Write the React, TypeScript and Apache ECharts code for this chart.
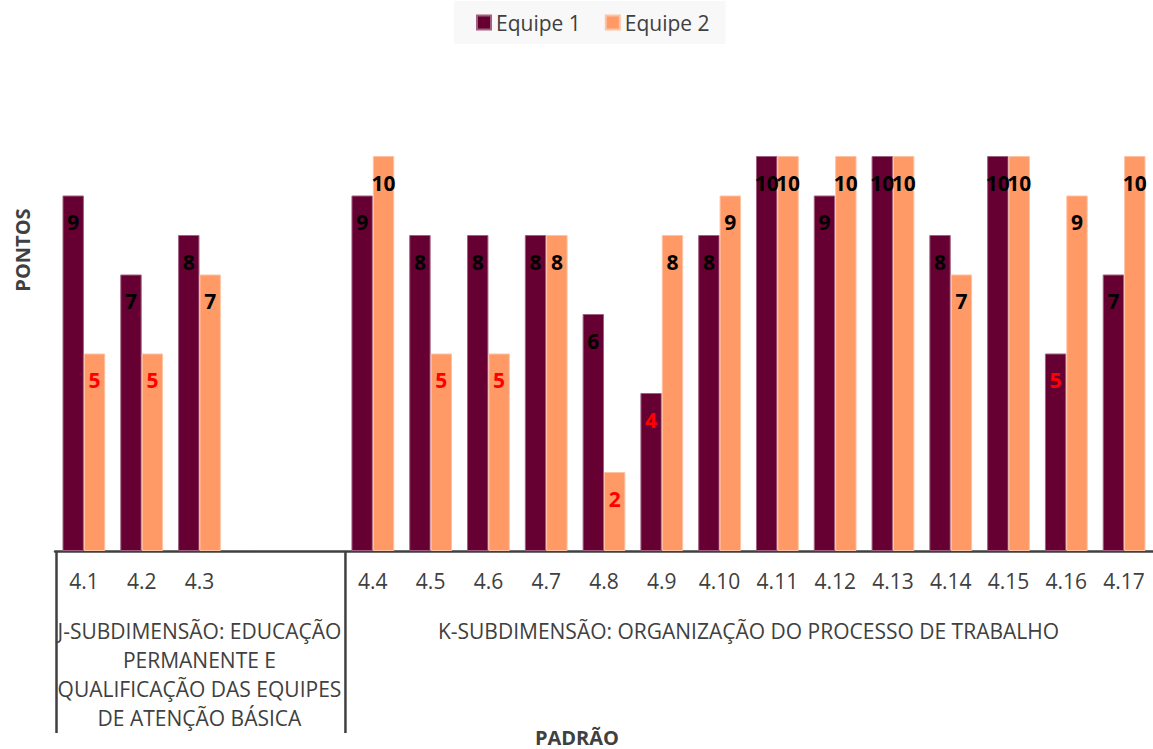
import React, { useEffect, useRef } from "react";
import * as echarts from "echarts";

// Standards on the x axis (two empty slots keep the groups apart)
const categories = [
  "4.1", "4.2", "4.3", "", "",
  "4.4", "4.5", "4.6", "4.7", "4.8", "4.9", "4.10", "4.11",
  "4.12", "4.13", "4.14", "4.15", "4.16", "4.17",
];

const equipe1 = [9, 7, 8, null, null, 9, 8, 8, 8, 6, 4, 8, 10, 9, 10, 8, 10, 5, 7];
const equipe2 = [5, 5, 7, null, null, 10, 5, 5, 8, 2, 8, 9, 10, 10, 10, 7, 10, 9, 10];

// Sub-dimension groups: label and first/last category index
const groupNames = [
  "J-SUBDIMENSÃO: EDUCAÇÃO\nPERMANENTE E\nQUALIFICAÇÃO DAS EQUIPES\nDE ATENÇÃO BÁSICA",
  "K-SUBDIMENSÃO: ORGANIZAÇÃO DO PROCESSO DE TRABALHO",
];
const groupStart = [0, 5];
const groupEnd = [4, 18];

const FONT = "'Open Sans', 'Noto Sans', sans-serif";
const AXIS_GREY = "#404040";
const LOW_SCORE = 5;

const toItems = (values: (number | null)[]) =>
  values.map((v) =>
    v == null
      ? null
      : { value: v, label: { color: v <= LOW_SCORE ? "#ff0000" : "#000000" } }
  );

export default function App() {
  const ref = useRef<HTMLDivElement>(null);

  useEffect(() => {
    if (!ref.current) return;
    const chart = echarts.init(ref.current, null, { renderer: "svg" });

    const barLabel = {
      show: true,
      position: "insideTop" as const,
      distance: 16,
      fontFamily: FONT,
      fontSize: 21,
      fontWeight: "bold" as const,
    };

    chart.setOption({
      animation: false,
      backgroundColor: "#ffffff",
      textStyle: { fontFamily: FONT },
      legend: {
        left: 454,
        top: 1,
        padding: [11, 16, 11, 22],
        backgroundColor: "#f8f8f8",
        itemGap: 24,
        itemWidth: 14,
        itemHeight: 14,
        icon: "rect",
        textStyle: { fontFamily: FONT, fontSize: 21, color: AXIS_GREY },
        data: ["Equipe 1", "Equipe 2"],
      },
      grid: { left: 55, right: 0, top: 156, bottom: 198, containLabel: false },
      xAxis: {
        type: "category",
        data: categories,
        axisLine: { show: true, lineStyle: { color: AXIS_GREY, width: 2.5 } },
        axisTick: { show: false },
        axisLabel: {
          interval: 0,
          margin: 19,
          fontFamily: FONT,
          fontSize: 21,
          color: AXIS_GREY,
        },
      },
      yAxis: {
        type: "value",
        min: 0,
        max: 10,
        show: false,
      },
      series: [
        {
          name: "Equipe 1",
          type: "bar",
          data: toItems(equipe1),
          barGap: "0%",
          barCategoryGap: "26%",
          itemStyle: { color: "#660033", borderColor: "#a0607f", borderWidth: 1 },
          label: barLabel,
        },
        {
          name: "Equipe 2",
          type: "bar",
          data: toItems(equipe2),
          itemStyle: { color: "#ff9966", borderColor: "#ffc2a3", borderWidth: 1 },
          label: barLabel,
        },
      ],
    });

    // Multi-level axis: group captions and separators placed from the category scale
    const px = (i: number) => chart.convertToPixel({ xAxisIndex: 0 }, i) as number;
    const band = px(1) - px(0);
    const axisY = 551;
    const graphics: any[] = [];

    groupNames.forEach((name, g) => {
      const cx = (px(groupStart[g]) + px(groupEnd[g])) / 2;
      graphics.push({
        type: "text",
        z: 5,
        style: {
          text: name,
          x: cx,
          y: 616,
          align: "center",
          verticalAlign: "top",
          lineHeight: 29,
          font: `21px ${FONT}`,
          fill: AXIS_GREY,
        },
      });
    });

    const boundaries = [groupStart[0], groupStart[1]];
    boundaries.forEach((idx) => {
      const x = px(idx) - band / 2 + 1.5;
      graphics.push({
        type: "line",
        z: 10,
        shape: { x1: x, y1: axisY, x2: x, y2: 733 },
        style: { stroke: AXIS_GREY, lineWidth: 2.5 },
      });
    });

    graphics.push({
      type: "text",
      z: 5,
      style: {
        text: "PADRÃO",
        x: 577,
        y: 737,
        align: "center",
        verticalAlign: "middle",
        font: `bold 20px ${FONT}`,
        fill: AXIS_GREY,
      },
    });
    graphics.push({
      type: "text",
      z: 5,
      x: 22,
      y: 250,
      rotation: Math.PI / 2,
      style: {
        text: "PONTOS",
        x: 0,
        y: 0,
        align: "center",
        verticalAlign: "middle",
        font: `bold 20px ${FONT}`,
        fill: AXIS_GREY,
      },
    });

    chart.setOption({ graphic: graphics });

    return () => chart.dispose();
  }, []);

  return (
    <div
      ref={ref}
      style={{ position: "absolute", left: 0, top: 0, width: 1153, height: 749 }}
    />
  );
}
